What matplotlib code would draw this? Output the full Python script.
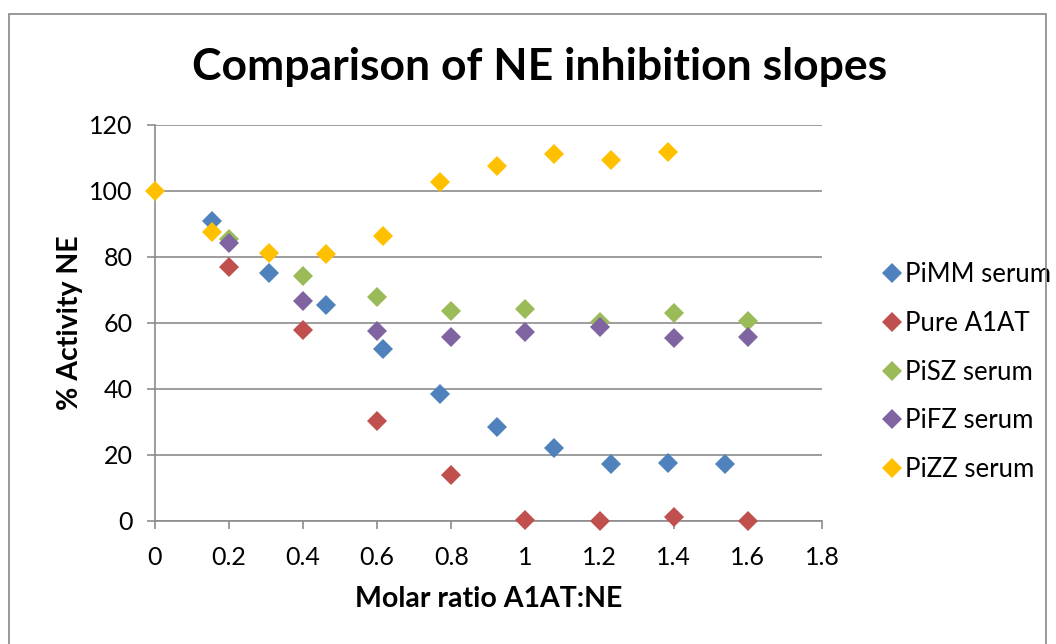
import matplotlib
matplotlib.use("Agg")
import matplotlib.pyplot as plt
from matplotlib.patches import Rectangle

plt.rcParams['font.family'] = ['Lato', 'DejaVu Sans']

title = "Comparison of NE inhibition slopes"
xlabel = "Molar ratio A1AT:NE"
ylabel = "% Activity NE"

x_serum = [0.154, 0.308, 0.462, 0.615, 0.769, 0.923, 1.077, 1.231, 1.385, 1.538]
pimm = [91, 75, 65.5, 52, 38.5, 28.5, 22.2, 17.2, 17.5, 17.2]

x_pure = [0.2, 0.4, 0.6, 0.8, 1.0, 1.2, 1.4, 1.6]
pure = [77, 58, 30.2, 14, 0.3, 0.1, 1.3, 0.1]

x_sz = [0.2, 0.4, 0.6, 0.8, 1.0, 1.2, 1.4, 1.6]
pisz = [85.4, 74.3, 68, 63.5, 64.1, 60.2, 63.1, 60.6]

x_fz = [0.2, 0.4, 0.6, 0.8, 1.0, 1.2, 1.4, 1.6]
pifz = [84.3, 66.6, 57.7, 55.9, 57.4, 58.8, 55.6, 55.9]

x_zz = [0.0, 0.154, 0.308, 0.462, 0.615, 0.769, 0.923, 1.077, 1.231, 1.385]
pizz = [100, 87.5, 81.3, 80.8, 86.5, 102.6, 107.7, 111.2, 109.4, 111.7]

series = [
    ("PiMM serum", x_serum, pimm, "#4F81BD"),
    ("Pure A1AT", x_pure, pure, "#C0504D"),
    ("PiSZ serum", x_sz, pisz, "#9BBB59"),
    ("PiFZ serum", x_fz, pifz, "#8064A2"),
    ("PiZZ serum", x_zz, pizz, "#FFC000"),
]

xticks = [0, 0.2, 0.4, 0.6, 0.8, 1, 1.2, 1.4, 1.6, 1.8]
xticklabels = ["0", "0.2", "0.4", "0.6", "0.8", "1", "1.2", "1.4", "1.6", "1.8"]
yticks = [0, 20, 40, 60, 80, 100, 120]

fig = plt.figure(figsize=(10.56, 6.44), dpi=100)
fig.patches.append(Rectangle((9/1056, -0.1), (1046-9)/1056, 1 - 14/644 + 0.1,
                             transform=fig.transFigure, fill=False,
                             edgecolor="#888888", linewidth=1.2))

ax = fig.add_axes([154.7/1056, 1 - 521/644, (822 - 154.7)/1056, (521 - 125)/644])
for name, xs, ys, c in series:
    ax.plot(xs, ys, linestyle="none", marker="D", markersize=10.5, color=c,
            markeredgewidth=0, label=name, clip_on=False, zorder=3)

ax.set_xlim(0, 1.8)
ax.set_ylim(0, 120)
ax.set_xticks(xticks)
ax.set_xticklabels(xticklabels)
ax.set_yticks(yticks)
ax.grid(axis="y", color="#8c8c8c", linewidth=1.2)
ax.set_axisbelow(True)
for s in ["top", "right"]:
    ax.spines[s].set_visible(False)
for s in ["left", "bottom"]:
    ax.spines[s].set_color("#8c8c8c")
    ax.spines[s].set_linewidth(1.2)
ax.tick_params(axis="both", direction="out", length=6, width=1.2, color="#8c8c8c",
               labelsize=18)
ax.tick_params(axis="x", pad=12)
ax.tick_params(axis="y", pad=10)

ax.set_xlabel(xlabel, fontsize=20.5, fontweight="bold", labelpad=12)
ax.set_ylabel(ylabel, fontsize=20.5, fontweight="bold", labelpad=4)
fig.text(540/1056, 1 - 67/644, title, fontsize=32, fontweight="bold",
         ha="center", va="center")

ax.legend(loc="center left", bbox_to_anchor=(866/1056, 1 - 372/644),
          bbox_transform=fig.transFigure, frameon=False, fontsize=18.5,
          handletextpad=0.0, labelspacing=0.93, handlelength=1.0, borderpad=0)

fig.savefig("out.png", dpi=100)
